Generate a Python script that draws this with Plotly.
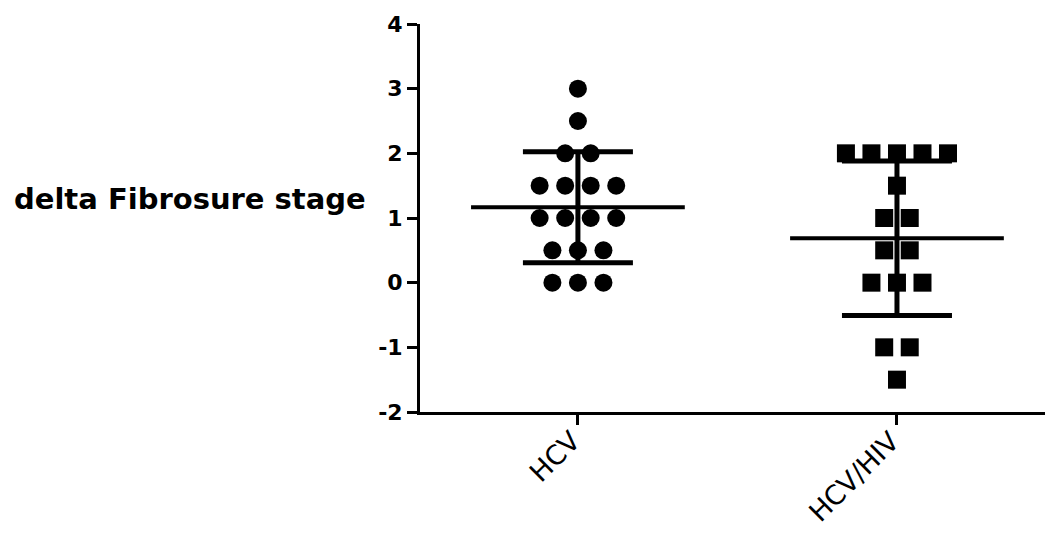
import numpy as np
import plotly.graph_objects as go

# ---- data ----
categories = ["HCV", "HCV/HIV"]
hcv_values = [3, 2.5, 2, 2, 1.5, 1.5, 1.5, 1.5, 1, 1, 1, 1, 0.5, 0.5, 0.5, 0, 0, 0]
hcv_hiv_values = [2, 2, 2, 2, 2, 1.5, 1, 1, 0.5, 0.5, 0, 0, 0, -1, -1, -1.5]
marker_symbols = ["circle", "square"]
y_ticks = [-2, -1, 0, 1, 2, 3, 4]
y_ticktext = ["-2", "-1", "0", "1", "2", "3", "4"]
y_title = "delta Fibrosure stage"

groups = [hcv_values, hcv_hiv_values]

SPACING = 0.08     # horizontal spacing between tied points (category units)
MEAN_HALF = 0.335  # half-width of mean line (category units)

fig = go.Figure()

for i, (vals, sym) in enumerate(zip(groups, marker_symbols)):
    vals = np.asarray(vals, dtype=float)
    xs, ys = [], []
    for v in sorted(set(vals), reverse=True):
        n = int(np.sum(vals == v))
        for k in range(n):
            xs.append(i + (k - (n - 1) / 2) * SPACING)
            ys.append(v)
    fig.add_trace(go.Scatter(
        x=xs, y=ys, mode="markers",
        marker=dict(symbol=sym, size=18, color="black", line=dict(width=0)),
        showlegend=False, hoverinfo="y"))
    mean = vals.mean()
    sd = vals.std(ddof=1)
    fig.add_trace(go.Scatter(
        x=[i], y=[mean], mode="markers", marker=dict(size=1, color="rgba(0,0,0,0)"),
        error_y=dict(type="data", symmetric=True, array=[sd], color="black",
                     thickness=5, width=55),
        showlegend=False, hoverinfo="skip"))
    fig.add_trace(go.Scatter(
        x=[i - MEAN_HALF, i + MEAN_HALF], y=[mean, mean], mode="lines",
        line=dict(color="black", width=4), showlegend=False, hoverinfo="skip"))

    # category label (rotated), ending at the tick
    fig.add_annotation(
        text=categories[i], xref="x", yref="paper", x=i + 0.03, y=-0.03,
        xanchor="right", yanchor="top", textangle=-45, showarrow=False,
        borderpad=0,
        font=dict(family="DejaVu Sans", size=27, color="black"))

fig.add_annotation(
    text=y_title, xref="paper", yref="y", x=-0.083, y=1.3,
    xanchor="right", yanchor="middle", showarrow=False,
    font=dict(family="DejaVu Sans", size=29, color="black", weight="bold"))

fig.update_layout(
    width=1045, height=533,
    margin=dict(l=420, r=0, t=24, b=121, pad=0, autoexpand=False),
    plot_bgcolor="white", paper_bgcolor="white",
    xaxis=dict(
        range=[-0.495, 1.464], tickmode="array", tickvals=[0, 1],
        ticktext=["", ""],
        showline=True, linecolor="black", linewidth=3,
        ticks="outside", ticklen=10, tickwidth=3, tickcolor="black",
        showgrid=False, zeroline=False, automargin=False),
    yaxis=dict(
        range=[-2, 4], tickmode="array", tickvals=y_ticks, ticktext=y_ticktext,
        showline=True, linecolor="black", linewidth=3,
        ticks="outside", ticklen=10, tickwidth=3, tickcolor="black",
        showgrid=False, zeroline=False, automargin=False,
        tickfont=dict(family="DejaVu Sans", size=22, color="black", weight="bold")),
)

fig.write_html(
    "out.html",
    config={"displayModeBar": False},
    post_script="document.body.style.margin='0';"
                "document.documentElement.style.overflow='hidden';"
                "document.body.style.overflow='hidden';")
